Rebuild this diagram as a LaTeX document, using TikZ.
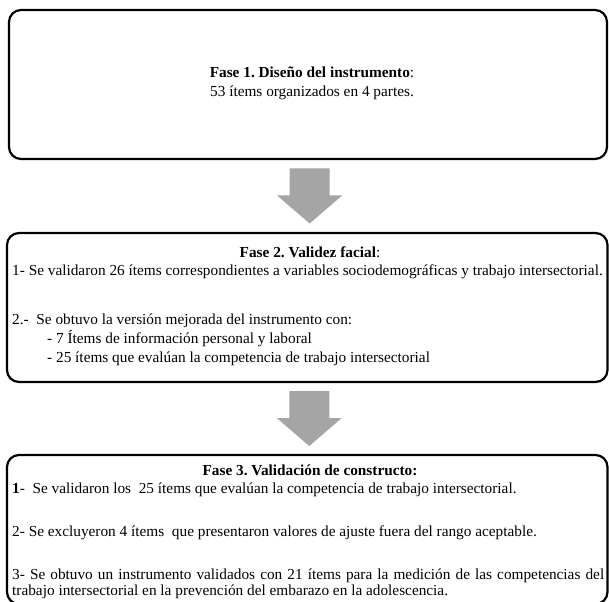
\documentclass[tikz,border=0pt]{standalone}
\usepackage{fontspec}
\setmainfont{Liberation Serif}
\usetikzlibrary{calc}
\definecolor{arrowgray}{RGB}{165,165,165}
\begin{document}
\begin{tikzpicture}[x=1pt,y=-1pt,
  phase/.style={draw=black, line width=2.2pt, rounded corners=12pt, inner sep=0pt, minimum height=149pt},
  txt/.style={anchor=base west, inner sep=0pt, font=\fontsize{15.3}{16}\selectfont},
  ctxt/.style={anchor=base, inner sep=0pt, font=\fontsize{15.3}{16}\selectfont},
  blockarrow/.style={fill=arrowgray, draw=none}]
\useasboundingbox (0,0) rectangle (609,601);
\clip (0,0) rectangle (609,601);
% boxes
\node[phase, minimum width=598pt] (box1) at (308,84.5) {};
\node[phase, minimum width=600.5pt] (box2) at (307.25,307.5) {};
\node[phase, minimum width=600.5pt] (box3) at (307.25,529.5) {};
% block arrows
\coordinate (a1) at ($(box1.south)!0.5!(box2.north)$);
\coordinate (a2) at ($(box2.south)!0.5!(box3.north)$);
\foreach \a in {a1,a2}{
  \fill[blockarrow] ($(\a)+(-18,-27.5)$) -- ($(\a)+(22,-27.5)$) -- ($(\a)+(22,-0.5)$)
    -- ($(\a)+(34.5,-0.5)$) -- ($(\a)+(2,27.5)$) -- ($(\a)+(-30.5,-0.5)$)
    -- ($(\a)+(-18,-0.5)$) -- cycle;
}
% box 1 text
\node[ctxt] (t1a) at (312,78) {\frenchspacing\textbf{Fase 1. Diseño del instrumento}:};
\node[ctxt] (t1b) at (312,97) {53 ítems organizados en 4 partes.};
% box 2 text
\node[ctxt] (t2a) at (310,258) {\frenchspacing\textbf{Fase 2. Validez facial}:};
\node[txt] (t2b) at (12,275) {1- Se validaron 26 ítems correspondientes a variables sociodemográficas y trabajo intersectorial.};
\node[txt] (t2c) at (12,324) {2.-~ Se obtuvo la versión mejorada del instrumento con:};
\node[txt] (t2d) at (47,343) {- 7 Ítems de información personal y laboral};
\node[txt] (t2e) at (47,362) {- 25 ítems que evalúan la competencia de trabajo intersectorial};
% box 3 text
\node[ctxt] (t3a) at (310,475) {\frenchspacing\textbf{Fase 3. Validación de constructo:}};
\node[txt] (t3b) at (12,493) {\textbf{1}-~ Se validaron los~ 25 ítems que evalúan la competencia de trabajo intersectorial.};
\node[txt] (t3c) at (12,536) {2- Se excluyeron 4 ítems~ que presentaron valores de ajuste fuera del rango aceptable.};
\node[txt] (t3d) at (12,579) {\parbox[t]{592pt}{\fontsize{15.3}{16}\selectfont 3- Se obtuvo un instrumento validados con 21 ítems para la medición de las competencias del\linebreak trabajo intersectorial en la prevención del embarazo en la adolescencia.}};
\end{tikzpicture}
\end{document}
